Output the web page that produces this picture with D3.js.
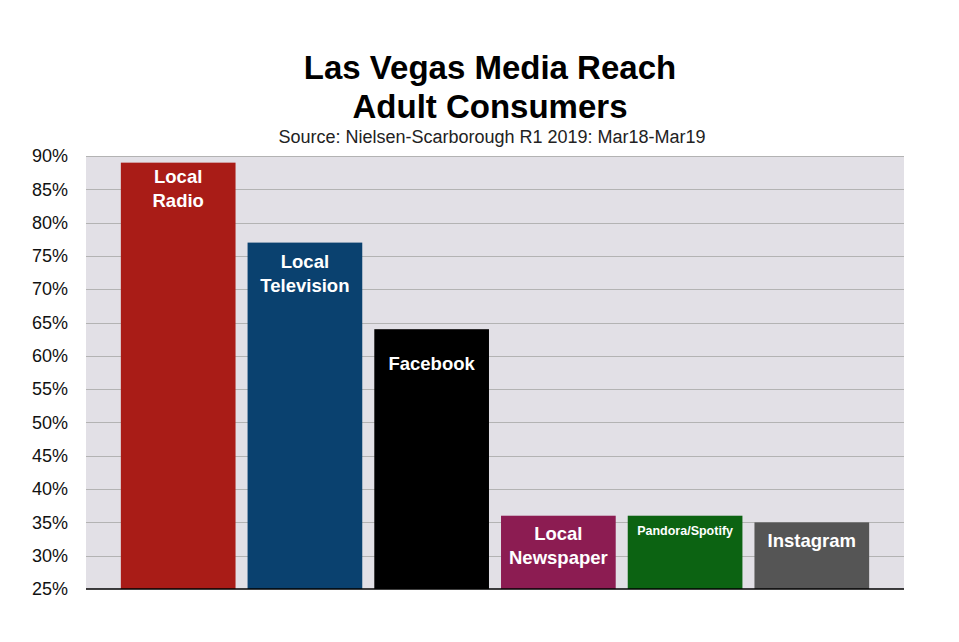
<!DOCTYPE html>
<html>
<head>
<meta charset="utf-8">
<script src="https://cdn.jsdelivr.net/npm/d3@7"></script>
<style>
	body { margin: 0; background: #fff; }
	svg { display: block; font-family: "Liberation Sans", Arial, Helvetica, sans-serif; }
</style>
</head>
<body>
<div id="chart"></div>
<script>
// media reach data
const categories = ["Local Radio", "Local Television", "Facebook", "Local Newspaper", "Pandora/Spotify", "Instagram"];
const reach = [89, 77, 64, 36, 36, 35];
const labelLines = [["Local", "Radio"], ["Local", "Television"], ["Facebook"], ["Local", "Newspaper"], ["Pandora/Spotify"], ["Instagram"]];
const barColors = ["#a91c17", "#0a416f", "#000000", "#8c1c52", "#0c6312", "#555555"];
const yTicks = [25, 30, 35, 40, 45, 50, 55, 60, 65, 70, 75, 80, 85, 90];

const width = 959, height = 642;
const margin = {top: 156, right: 55, bottom: 53, left: 86};

const svg = d3.select("#chart").append("svg")
	.attr("width", width)
	.attr("height", height);

const x = d3.scaleBand()
	.domain(categories)
	.range([margin.left, width - margin.right])
	.paddingInner(0.095)
	.paddingOuter(0.275);

const y = d3.scaleLinear()
	.domain([25, 90])
	.range([height - margin.bottom, margin.top]);

// plot background
svg.append("rect")
	.attr("x", margin.left)
	.attr("y", margin.top)
	.attr("width", width - margin.right - margin.left)
	.attr("height", height - margin.bottom - margin.top)
	.attr("fill", "#e2e0e6");

// grid lines
svg.append("g")
	.selectAll("line")
	.data(yTicks.filter(d => d > 25))
	.enter().append("line")
	.attr("x1", margin.left)
	.attr("x2", width - margin.right)
	.attr("y1", d => Math.round(y(d)) + 0.5)
	.attr("y2", d => Math.round(y(d)) + 0.5)
	.attr("stroke", "#b3b3b3")
	.attr("stroke-width", 1);

// y axis labels
const yAxis = d3.axisLeft(y)
	.tickValues(yTicks)
	.tickFormat(d => d + "%")
	.tickSize(0)
	.tickPadding(18);
const yg = svg.append("g")
	.attr("transform", "translate(" + margin.left + ",0)")
	.call(yAxis);
yg.select(".domain").remove();
yg.selectAll("text")
	.attr("fill", "#111")
	.style("font-size", "18px");

// bars
svg.append("g")
	.selectAll("rect")
	.data(categories)
	.enter().append("rect")
	.attr("x", d => x(d))
	.attr("y", (d, i) => y(reach[i]))
	.attr("width", x.bandwidth())
	.attr("height", (d, i) => y(25) - y(reach[i]))
	.attr("fill", (d, i) => barColors[i]);

// bar labels
const labelOffsets = [20, 25, 41, 24, 19, 25];
const labels = svg.append("g")
	.selectAll("text")
	.data(categories)
	.enter().append("text")
	.attr("text-anchor", "middle")
	.attr("fill", "#fff")
	.style("font-weight", "bold")
	.style("font-size", (d, i) => categories[i] === "Pandora/Spotify" ? "12.5px" : "18.5px")
	.attr("x", d => x(d) + x.bandwidth() / 2)
	.attr("y", (d, i) => y(reach[i]) + labelOffsets[i]);
labels.each(function(d, i) {
	const t = d3.select(this);
	labelLines[i].forEach(function(line, j) {
		t.append("tspan")
			.attr("x", x(d) + x.bandwidth() / 2)
			.attr("dy", j === 0 ? 0 : 24)
			.text(line);
	});
});

// x axis line
svg.append("line")
	.attr("x1", margin.left)
	.attr("x2", width - margin.right)
	.attr("y1", y(25))
	.attr("y2", y(25))
	.attr("stroke", "#000")
	.attr("stroke-width", 1.5);

// titles
svg.append("text")
	.attr("x", 490).attr("y", 79)
	.attr("text-anchor", "middle")
	.style("font-weight", "bold").style("font-size", "33px")
	.text("Las Vegas Media Reach");
svg.append("text")
	.attr("x", 490).attr("y", 118)
	.attr("text-anchor", "middle")
	.style("font-weight", "bold").style("font-size", "33px")
	.text("Adult Consumers");
svg.append("text")
	.attr("x", 492).attr("y", 143)
	.attr("text-anchor", "middle")
	.attr("fill", "#222")
	.style("font-size", "18px")
	.text("Source: Nielsen-Scarborough R1 2019: Mar18-Mar19");
</script>
</body>
</html>
